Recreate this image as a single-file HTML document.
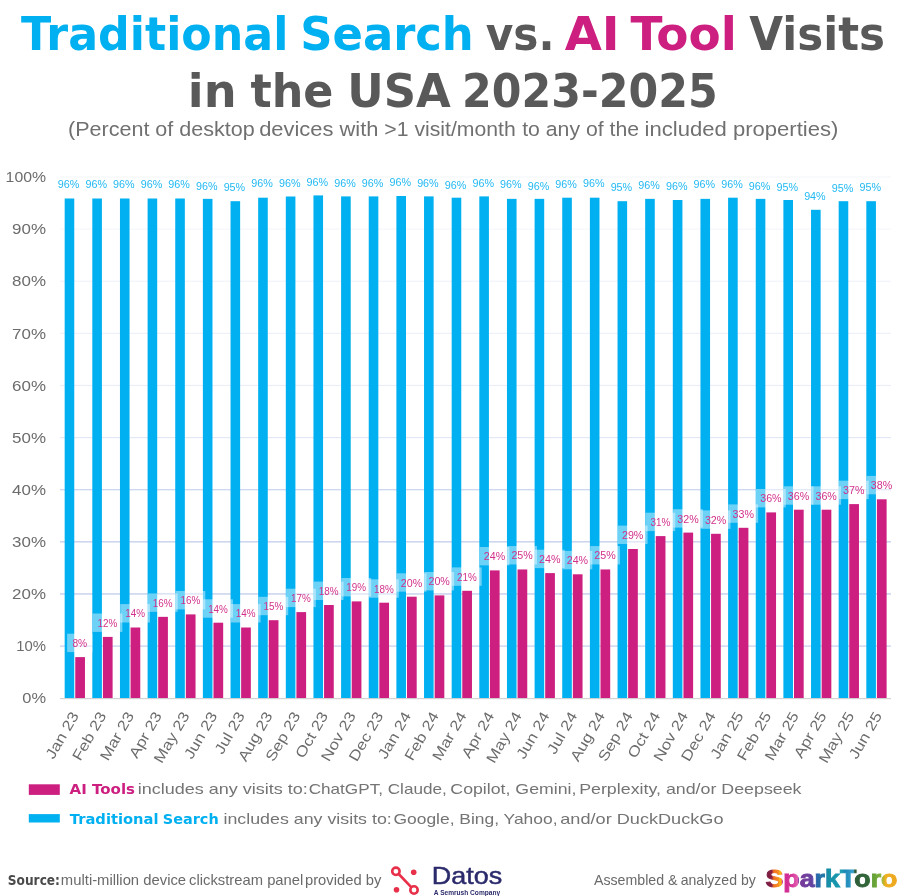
<!DOCTYPE html>
<html lang="en"><head><meta charset="utf-8"><title>Traditional Search vs. AI Tool Visits in the USA 2023-2025</title>
<style>
html,body{margin:0;padding:0;background:#fff;}
body{width:905px;height:896px;overflow:hidden;}
svg{display:block;}
.t{font-family:"DejaVu Sans","Liberation Sans",sans-serif;font-weight:bold;}
.l{font-family:"Liberation Sans",sans-serif;}
.lb{font-family:"Liberation Sans",sans-serif;font-weight:bold;}
</style></head><body>
<svg width="905" height="896" viewBox="0 0 905 896">
<rect width="905" height="896" fill="#fff"/>
<text class="t" x="21.00" y="50.20" font-size="45.8" fill="#00b0f0" textLength="267.37" lengthAdjust="spacingAndGlyphs">Traditional</text>
<text class="t" x="300.18" y="50.20" font-size="45.8" fill="#00b0f0" textLength="173.64" lengthAdjust="spacingAndGlyphs">Search</text>
<text class="t" x="485.82" y="50.20" font-size="45.8" fill="#595959" textLength="68.78" lengthAdjust="spacingAndGlyphs">vs.</text>
<text class="t" x="564.69" y="50.20" font-size="45.8" fill="#cd1f80" textLength="54.94" lengthAdjust="spacingAndGlyphs">AI</text>
<text class="t" x="630.40" y="50.20" font-size="45.8" fill="#cd1f80" textLength="106.32" lengthAdjust="spacingAndGlyphs">Tool</text>
<text class="t" x="749.21" y="50.20" font-size="45.8" fill="#595959" textLength="135.82" lengthAdjust="spacingAndGlyphs">Visits</text>
<text class="t" x="187.89" y="107.30" font-size="45.8" fill="#595959" textLength="48.79" lengthAdjust="spacingAndGlyphs">in</text>
<text class="t" x="250.41" y="107.30" font-size="45.8" fill="#595959" textLength="82.99" lengthAdjust="spacingAndGlyphs">the</text>
<text class="t" x="347.19" y="107.30" font-size="45.8" fill="#595959" textLength="103.61" lengthAdjust="spacingAndGlyphs">USA</text>
<text class="t" x="462.09" y="107.30" font-size="45.8" fill="#595959" textLength="255.59" lengthAdjust="spacingAndGlyphs">2023-2025</text>
<text class="l" x="67.99" y="136.10" font-size="19.3" fill="#707070" textLength="186.72" lengthAdjust="spacingAndGlyphs">(Percent of desktop</text>
<text class="l" x="259.18" y="136.10" font-size="19.3" fill="#707070" textLength="119.25" lengthAdjust="spacingAndGlyphs">devices with</text>
<text class="l" x="384.38" y="136.10" font-size="19.3" fill="#707070" textLength="131.32" lengthAdjust="spacingAndGlyphs">&gt;1 visit/month</text>
<text class="l" x="522.19" y="136.10" font-size="19.3" fill="#707070" textLength="116.91" lengthAdjust="spacingAndGlyphs">to any of the</text>
<text class="l" x="644.57" y="136.10" font-size="19.3" fill="#707070" textLength="193.85" lengthAdjust="spacingAndGlyphs">included properties)</text>
<rect x="60" y="176.40" width="831" height="1.2" fill="#f6f7fb"/>
<rect x="60" y="228.52" width="831" height="1.2" fill="#f6f7fb"/>
<rect x="60" y="280.64" width="831" height="1.2" fill="#f2f4fa"/>
<rect x="60" y="332.76" width="831" height="1.2" fill="#eef1f9"/>
<rect x="60" y="384.88" width="831" height="1.2" fill="#eaeef8"/>
<rect x="60" y="437.00" width="831" height="1.2" fill="#e2e8f6"/>
<rect x="60" y="489.12" width="831" height="1.2" fill="#c8d3ee"/>
<rect x="60" y="541.24" width="831" height="1.2" fill="#bdcaea"/>
<rect x="60" y="593.36" width="831" height="1.2" fill="#b9c8e8"/>
<rect x="60" y="645.48" width="831" height="1.2" fill="#c4d0ec"/>
<text class="l" x="46.00" y="182.25" font-size="14.6" fill="#6c6c6c" text-anchor="end" textLength="40.4" lengthAdjust="spacingAndGlyphs">100%</text>
<text class="l" x="46.00" y="234.37" font-size="14.6" fill="#6c6c6c" text-anchor="end" textLength="33.9" lengthAdjust="spacingAndGlyphs">90%</text>
<text class="l" x="46.00" y="286.49" font-size="14.6" fill="#6c6c6c" text-anchor="end" textLength="33.9" lengthAdjust="spacingAndGlyphs">80%</text>
<text class="l" x="46.00" y="338.61" font-size="14.6" fill="#6c6c6c" text-anchor="end" textLength="33.9" lengthAdjust="spacingAndGlyphs">70%</text>
<text class="l" x="46.00" y="390.73" font-size="14.6" fill="#6c6c6c" text-anchor="end" textLength="33.9" lengthAdjust="spacingAndGlyphs">60%</text>
<text class="l" x="46.00" y="442.85" font-size="14.6" fill="#6c6c6c" text-anchor="end" textLength="33.9" lengthAdjust="spacingAndGlyphs">50%</text>
<text class="l" x="46.00" y="494.97" font-size="14.6" fill="#6c6c6c" text-anchor="end" textLength="33.9" lengthAdjust="spacingAndGlyphs">40%</text>
<text class="l" x="46.00" y="547.09" font-size="14.6" fill="#6c6c6c" text-anchor="end" textLength="33.9" lengthAdjust="spacingAndGlyphs">30%</text>
<text class="l" x="46.00" y="599.21" font-size="14.6" fill="#6c6c6c" text-anchor="end" textLength="33.9" lengthAdjust="spacingAndGlyphs">20%</text>
<text class="l" x="46.00" y="651.33" font-size="14.6" fill="#6c6c6c" text-anchor="end" textLength="29.8" lengthAdjust="spacingAndGlyphs">10%</text>
<text class="l" x="46.00" y="703.45" font-size="14.6" fill="#6c6c6c" text-anchor="end" textLength="23.7" lengthAdjust="spacingAndGlyphs">0%</text>
<rect x="64.67" y="198.50" width="9.6" height="499.70" fill="#00b0f0"/>
<rect x="75.27" y="657.10" width="9.7" height="41.10" fill="#cd1f80"/>
<rect x="92.31" y="198.50" width="9.6" height="499.70" fill="#00b0f0"/>
<rect x="102.91" y="636.90" width="9.7" height="61.30" fill="#cd1f80"/>
<rect x="119.96" y="198.50" width="9.6" height="499.70" fill="#00b0f0"/>
<rect x="130.56" y="627.50" width="9.7" height="70.70" fill="#cd1f80"/>
<rect x="147.60" y="198.50" width="9.6" height="499.70" fill="#00b0f0"/>
<rect x="158.20" y="616.85" width="9.7" height="81.35" fill="#cd1f80"/>
<rect x="175.24" y="198.50" width="9.6" height="499.70" fill="#00b0f0"/>
<rect x="185.84" y="614.40" width="9.7" height="83.80" fill="#cd1f80"/>
<rect x="202.88" y="198.85" width="9.6" height="499.35" fill="#00b0f0"/>
<rect x="213.48" y="622.70" width="9.7" height="75.50" fill="#cd1f80"/>
<rect x="230.53" y="201.20" width="9.6" height="497.00" fill="#00b0f0"/>
<rect x="241.13" y="627.50" width="9.7" height="70.70" fill="#cd1f80"/>
<rect x="258.17" y="197.70" width="9.6" height="500.50" fill="#00b0f0"/>
<rect x="268.77" y="620.20" width="9.7" height="78.00" fill="#cd1f80"/>
<rect x="285.81" y="196.50" width="9.6" height="501.70" fill="#00b0f0"/>
<rect x="296.41" y="612.10" width="9.7" height="86.10" fill="#cd1f80"/>
<rect x="313.46" y="195.40" width="9.6" height="502.80" fill="#00b0f0"/>
<rect x="324.06" y="605.00" width="9.7" height="93.20" fill="#cd1f80"/>
<rect x="341.10" y="196.40" width="9.6" height="501.80" fill="#00b0f0"/>
<rect x="351.70" y="601.40" width="9.7" height="96.80" fill="#cd1f80"/>
<rect x="368.74" y="196.40" width="9.6" height="501.80" fill="#00b0f0"/>
<rect x="379.34" y="602.70" width="9.7" height="95.50" fill="#cd1f80"/>
<rect x="396.39" y="196.00" width="9.6" height="502.20" fill="#00b0f0"/>
<rect x="406.99" y="596.70" width="9.7" height="101.50" fill="#cd1f80"/>
<rect x="424.03" y="196.40" width="9.6" height="501.80" fill="#00b0f0"/>
<rect x="434.63" y="595.40" width="9.7" height="102.80" fill="#cd1f80"/>
<rect x="451.67" y="197.70" width="9.6" height="500.50" fill="#00b0f0"/>
<rect x="462.27" y="590.80" width="9.7" height="107.40" fill="#cd1f80"/>
<rect x="479.31" y="196.40" width="9.6" height="501.80" fill="#00b0f0"/>
<rect x="489.92" y="570.40" width="9.7" height="127.80" fill="#cd1f80"/>
<rect x="506.96" y="198.85" width="9.6" height="499.35" fill="#00b0f0"/>
<rect x="517.56" y="569.45" width="9.7" height="128.75" fill="#cd1f80"/>
<rect x="534.60" y="198.85" width="9.6" height="499.35" fill="#00b0f0"/>
<rect x="545.20" y="573.10" width="9.7" height="125.10" fill="#cd1f80"/>
<rect x="562.24" y="197.70" width="9.6" height="500.50" fill="#00b0f0"/>
<rect x="572.84" y="574.30" width="9.7" height="123.90" fill="#cd1f80"/>
<rect x="589.89" y="197.70" width="9.6" height="500.50" fill="#00b0f0"/>
<rect x="600.49" y="569.45" width="9.7" height="128.75" fill="#cd1f80"/>
<rect x="617.53" y="201.20" width="9.6" height="497.00" fill="#00b0f0"/>
<rect x="628.13" y="549.00" width="9.7" height="149.20" fill="#cd1f80"/>
<rect x="645.17" y="198.85" width="9.6" height="499.35" fill="#00b0f0"/>
<rect x="655.77" y="536.10" width="9.7" height="162.10" fill="#cd1f80"/>
<rect x="672.82" y="200.00" width="9.6" height="498.20" fill="#00b0f0"/>
<rect x="683.42" y="532.60" width="9.7" height="165.60" fill="#cd1f80"/>
<rect x="700.46" y="198.85" width="9.6" height="499.35" fill="#00b0f0"/>
<rect x="711.06" y="533.80" width="9.7" height="164.40" fill="#cd1f80"/>
<rect x="728.10" y="197.70" width="9.6" height="500.50" fill="#00b0f0"/>
<rect x="738.70" y="527.80" width="9.7" height="170.40" fill="#cd1f80"/>
<rect x="755.75" y="198.85" width="9.6" height="499.35" fill="#00b0f0"/>
<rect x="766.35" y="512.40" width="9.7" height="185.80" fill="#cd1f80"/>
<rect x="783.39" y="200.00" width="9.6" height="498.20" fill="#00b0f0"/>
<rect x="793.99" y="509.70" width="9.7" height="188.50" fill="#cd1f80"/>
<rect x="811.03" y="209.80" width="9.6" height="488.40" fill="#00b0f0"/>
<rect x="821.63" y="509.70" width="9.7" height="188.50" fill="#cd1f80"/>
<rect x="838.67" y="201.20" width="9.6" height="497.00" fill="#00b0f0"/>
<rect x="849.27" y="504.10" width="9.7" height="194.10" fill="#cd1f80"/>
<rect x="866.32" y="201.20" width="9.6" height="497.00" fill="#00b0f0"/>
<rect x="876.92" y="499.30" width="9.7" height="198.90" fill="#cd1f80"/>
<rect x="60" y="698.10" width="831" height="1.1" fill="#cfcfcf"/>
<rect x="67.12" y="633.70" width="25.4" height="18.4" fill="#fff" fill-opacity="0.43"/>
<rect x="92.56" y="613.50" width="29.8" height="18.4" fill="#fff" fill-opacity="0.43"/>
<rect x="120.21" y="604.10" width="29.8" height="18.4" fill="#fff" fill-opacity="0.43"/>
<rect x="147.85" y="593.45" width="29.8" height="18.4" fill="#fff" fill-opacity="0.43"/>
<rect x="175.49" y="591.00" width="29.8" height="18.4" fill="#fff" fill-opacity="0.43"/>
<rect x="203.13" y="599.30" width="29.8" height="18.4" fill="#fff" fill-opacity="0.43"/>
<rect x="230.78" y="604.10" width="29.8" height="18.4" fill="#fff" fill-opacity="0.43"/>
<rect x="258.42" y="596.80" width="29.8" height="18.4" fill="#fff" fill-opacity="0.43"/>
<rect x="286.06" y="588.70" width="29.8" height="18.4" fill="#fff" fill-opacity="0.43"/>
<rect x="313.71" y="581.60" width="29.8" height="18.4" fill="#fff" fill-opacity="0.43"/>
<rect x="341.35" y="578.00" width="29.8" height="18.4" fill="#fff" fill-opacity="0.43"/>
<rect x="368.99" y="579.30" width="29.8" height="18.4" fill="#fff" fill-opacity="0.43"/>
<rect x="396.64" y="573.30" width="29.8" height="18.4" fill="#fff" fill-opacity="0.43"/>
<rect x="424.28" y="572.00" width="29.8" height="18.4" fill="#fff" fill-opacity="0.43"/>
<rect x="451.92" y="567.40" width="29.8" height="18.4" fill="#fff" fill-opacity="0.43"/>
<rect x="479.57" y="547.00" width="29.8" height="18.4" fill="#fff" fill-opacity="0.43"/>
<rect x="507.21" y="546.05" width="29.8" height="18.4" fill="#fff" fill-opacity="0.43"/>
<rect x="534.85" y="549.70" width="29.8" height="18.4" fill="#fff" fill-opacity="0.43"/>
<rect x="562.49" y="550.90" width="29.8" height="18.4" fill="#fff" fill-opacity="0.43"/>
<rect x="590.14" y="546.05" width="29.8" height="18.4" fill="#fff" fill-opacity="0.43"/>
<rect x="617.78" y="525.60" width="29.8" height="18.4" fill="#fff" fill-opacity="0.43"/>
<rect x="645.42" y="512.70" width="29.8" height="18.4" fill="#fff" fill-opacity="0.43"/>
<rect x="673.07" y="509.20" width="29.8" height="18.4" fill="#fff" fill-opacity="0.43"/>
<rect x="700.71" y="510.40" width="29.8" height="18.4" fill="#fff" fill-opacity="0.43"/>
<rect x="728.35" y="504.40" width="29.8" height="18.4" fill="#fff" fill-opacity="0.43"/>
<rect x="756.00" y="489.00" width="29.8" height="18.4" fill="#fff" fill-opacity="0.43"/>
<rect x="783.64" y="486.30" width="29.8" height="18.4" fill="#fff" fill-opacity="0.43"/>
<rect x="811.28" y="486.30" width="29.8" height="18.4" fill="#fff" fill-opacity="0.43"/>
<rect x="838.92" y="480.70" width="29.8" height="18.4" fill="#fff" fill-opacity="0.43"/>
<rect x="866.57" y="475.90" width="29.8" height="18.4" fill="#fff" fill-opacity="0.43"/>
<text class="l" x="68.57" y="188.47" font-size="11" fill="#22b9f2" text-anchor="middle" textLength="21.6" lengthAdjust="spacingAndGlyphs">96%</text>
<text class="l" x="96.21" y="188.47" font-size="11" fill="#22b9f2" text-anchor="middle" textLength="21.6" lengthAdjust="spacingAndGlyphs">96%</text>
<text class="l" x="123.86" y="188.47" font-size="11" fill="#22b9f2" text-anchor="middle" textLength="21.6" lengthAdjust="spacingAndGlyphs">96%</text>
<text class="l" x="151.50" y="188.47" font-size="11" fill="#22b9f2" text-anchor="middle" textLength="21.6" lengthAdjust="spacingAndGlyphs">96%</text>
<text class="l" x="179.14" y="188.47" font-size="11" fill="#22b9f2" text-anchor="middle" textLength="21.6" lengthAdjust="spacingAndGlyphs">96%</text>
<text class="l" x="206.78" y="189.60" font-size="11" fill="#22b9f2" text-anchor="middle" textLength="21.6" lengthAdjust="spacingAndGlyphs">96%</text>
<text class="l" x="234.43" y="190.70" font-size="11" fill="#22b9f2" text-anchor="middle" textLength="21.6" lengthAdjust="spacingAndGlyphs">95%</text>
<text class="l" x="262.07" y="187.30" font-size="11" fill="#22b9f2" text-anchor="middle" textLength="21.6" lengthAdjust="spacingAndGlyphs">96%</text>
<text class="l" x="289.71" y="187.00" font-size="11" fill="#22b9f2" text-anchor="middle" textLength="21.6" lengthAdjust="spacingAndGlyphs">96%</text>
<text class="l" x="317.36" y="185.70" font-size="11" fill="#22b9f2" text-anchor="middle" textLength="21.6" lengthAdjust="spacingAndGlyphs">96%</text>
<text class="l" x="345.00" y="187.10" font-size="11" fill="#22b9f2" text-anchor="middle" textLength="21.6" lengthAdjust="spacingAndGlyphs">96%</text>
<text class="l" x="372.64" y="187.10" font-size="11" fill="#22b9f2" text-anchor="middle" textLength="21.6" lengthAdjust="spacingAndGlyphs">96%</text>
<text class="l" x="400.29" y="185.70" font-size="11" fill="#22b9f2" text-anchor="middle" textLength="21.6" lengthAdjust="spacingAndGlyphs">96%</text>
<text class="l" x="427.93" y="187.30" font-size="11" fill="#22b9f2" text-anchor="middle" textLength="21.6" lengthAdjust="spacingAndGlyphs">96%</text>
<text class="l" x="455.57" y="188.50" font-size="11" fill="#22b9f2" text-anchor="middle" textLength="21.6" lengthAdjust="spacingAndGlyphs">96%</text>
<text class="l" x="483.22" y="186.80" font-size="11" fill="#22b9f2" text-anchor="middle" textLength="21.6" lengthAdjust="spacingAndGlyphs">96%</text>
<text class="l" x="510.86" y="188.30" font-size="11" fill="#22b9f2" text-anchor="middle" textLength="21.6" lengthAdjust="spacingAndGlyphs">96%</text>
<text class="l" x="538.50" y="189.50" font-size="11" fill="#22b9f2" text-anchor="middle" textLength="21.6" lengthAdjust="spacingAndGlyphs">96%</text>
<text class="l" x="566.14" y="187.80" font-size="11" fill="#22b9f2" text-anchor="middle" textLength="21.6" lengthAdjust="spacingAndGlyphs">96%</text>
<text class="l" x="593.79" y="187.10" font-size="11" fill="#22b9f2" text-anchor="middle" textLength="21.6" lengthAdjust="spacingAndGlyphs">96%</text>
<text class="l" x="621.43" y="190.60" font-size="11" fill="#22b9f2" text-anchor="middle" textLength="21.6" lengthAdjust="spacingAndGlyphs">95%</text>
<text class="l" x="649.07" y="189.30" font-size="11" fill="#22b9f2" text-anchor="middle" textLength="21.6" lengthAdjust="spacingAndGlyphs">96%</text>
<text class="l" x="676.72" y="190.45" font-size="11" fill="#22b9f2" text-anchor="middle" textLength="21.6" lengthAdjust="spacingAndGlyphs">96%</text>
<text class="l" x="704.36" y="188.30" font-size="11" fill="#22b9f2" text-anchor="middle" textLength="21.6" lengthAdjust="spacingAndGlyphs">96%</text>
<text class="l" x="732.00" y="188.30" font-size="11" fill="#22b9f2" text-anchor="middle" textLength="21.6" lengthAdjust="spacingAndGlyphs">96%</text>
<text class="l" x="759.64" y="189.50" font-size="11" fill="#22b9f2" text-anchor="middle" textLength="21.6" lengthAdjust="spacingAndGlyphs">96%</text>
<text class="l" x="787.29" y="190.60" font-size="11" fill="#22b9f2" text-anchor="middle" textLength="21.6" lengthAdjust="spacingAndGlyphs">95%</text>
<text class="l" x="814.93" y="199.80" font-size="11" fill="#22b9f2" text-anchor="middle" textLength="21.6" lengthAdjust="spacingAndGlyphs">94%</text>
<text class="l" x="842.57" y="191.60" font-size="11" fill="#22b9f2" text-anchor="middle" textLength="21.6" lengthAdjust="spacingAndGlyphs">95%</text>
<text class="l" x="870.22" y="191.10" font-size="11" fill="#22b9f2" text-anchor="middle" textLength="21.6" lengthAdjust="spacingAndGlyphs">95%</text>
<text class="l" x="79.82" y="647.00" font-size="11" fill="#d2308a" text-anchor="middle" textLength="14.8" lengthAdjust="spacingAndGlyphs">8%</text>
<text class="l" x="107.46" y="626.80" font-size="11" fill="#d2308a" text-anchor="middle" textLength="19.8" lengthAdjust="spacingAndGlyphs">12%</text>
<text class="l" x="135.11" y="617.40" font-size="11" fill="#d2308a" text-anchor="middle" textLength="19.8" lengthAdjust="spacingAndGlyphs">14%</text>
<text class="l" x="162.75" y="606.75" font-size="11" fill="#d2308a" text-anchor="middle" textLength="19.8" lengthAdjust="spacingAndGlyphs">16%</text>
<text class="l" x="190.39" y="604.30" font-size="11" fill="#d2308a" text-anchor="middle" textLength="19.8" lengthAdjust="spacingAndGlyphs">16%</text>
<text class="l" x="218.03" y="612.60" font-size="11" fill="#d2308a" text-anchor="middle" textLength="19.8" lengthAdjust="spacingAndGlyphs">14%</text>
<text class="l" x="245.68" y="617.40" font-size="11" fill="#d2308a" text-anchor="middle" textLength="19.8" lengthAdjust="spacingAndGlyphs">14%</text>
<text class="l" x="273.32" y="610.10" font-size="11" fill="#d2308a" text-anchor="middle" textLength="19.8" lengthAdjust="spacingAndGlyphs">15%</text>
<text class="l" x="300.96" y="602.00" font-size="11" fill="#d2308a" text-anchor="middle" textLength="19.8" lengthAdjust="spacingAndGlyphs">17%</text>
<text class="l" x="328.61" y="594.90" font-size="11" fill="#d2308a" text-anchor="middle" textLength="19.8" lengthAdjust="spacingAndGlyphs">18%</text>
<text class="l" x="356.25" y="591.30" font-size="11" fill="#d2308a" text-anchor="middle" textLength="19.8" lengthAdjust="spacingAndGlyphs">19%</text>
<text class="l" x="383.89" y="592.60" font-size="11" fill="#d2308a" text-anchor="middle" textLength="19.8" lengthAdjust="spacingAndGlyphs">18%</text>
<text class="l" x="411.54" y="586.60" font-size="11" fill="#d2308a" text-anchor="middle" textLength="21.4" lengthAdjust="spacingAndGlyphs">20%</text>
<text class="l" x="439.18" y="585.30" font-size="11" fill="#d2308a" text-anchor="middle" textLength="21.4" lengthAdjust="spacingAndGlyphs">20%</text>
<text class="l" x="466.82" y="580.70" font-size="11" fill="#d2308a" text-anchor="middle" textLength="19.8" lengthAdjust="spacingAndGlyphs">21%</text>
<text class="l" x="494.47" y="560.30" font-size="11" fill="#d2308a" text-anchor="middle" textLength="21.4" lengthAdjust="spacingAndGlyphs">24%</text>
<text class="l" x="522.11" y="559.35" font-size="11" fill="#d2308a" text-anchor="middle" textLength="21.4" lengthAdjust="spacingAndGlyphs">25%</text>
<text class="l" x="549.75" y="563.00" font-size="11" fill="#d2308a" text-anchor="middle" textLength="21.4" lengthAdjust="spacingAndGlyphs">24%</text>
<text class="l" x="577.39" y="564.20" font-size="11" fill="#d2308a" text-anchor="middle" textLength="21.4" lengthAdjust="spacingAndGlyphs">24%</text>
<text class="l" x="605.04" y="559.35" font-size="11" fill="#d2308a" text-anchor="middle" textLength="21.4" lengthAdjust="spacingAndGlyphs">25%</text>
<text class="l" x="632.68" y="538.90" font-size="11" fill="#d2308a" text-anchor="middle" textLength="21.4" lengthAdjust="spacingAndGlyphs">29%</text>
<text class="l" x="660.32" y="526.00" font-size="11" fill="#d2308a" text-anchor="middle" textLength="19.8" lengthAdjust="spacingAndGlyphs">31%</text>
<text class="l" x="687.97" y="522.50" font-size="11" fill="#d2308a" text-anchor="middle" textLength="21.4" lengthAdjust="spacingAndGlyphs">32%</text>
<text class="l" x="715.61" y="523.70" font-size="11" fill="#d2308a" text-anchor="middle" textLength="21.4" lengthAdjust="spacingAndGlyphs">32%</text>
<text class="l" x="743.25" y="517.70" font-size="11" fill="#d2308a" text-anchor="middle" textLength="21.4" lengthAdjust="spacingAndGlyphs">33%</text>
<text class="l" x="770.90" y="502.30" font-size="11" fill="#d2308a" text-anchor="middle" textLength="21.4" lengthAdjust="spacingAndGlyphs">36%</text>
<text class="l" x="798.54" y="499.60" font-size="11" fill="#d2308a" text-anchor="middle" textLength="21.4" lengthAdjust="spacingAndGlyphs">36%</text>
<text class="l" x="826.18" y="499.60" font-size="11" fill="#d2308a" text-anchor="middle" textLength="21.4" lengthAdjust="spacingAndGlyphs">36%</text>
<text class="l" x="853.82" y="494.00" font-size="11" fill="#d2308a" text-anchor="middle" textLength="21.4" lengthAdjust="spacingAndGlyphs">37%</text>
<text class="l" x="881.47" y="489.20" font-size="11" fill="#d2308a" text-anchor="middle" textLength="21.4" lengthAdjust="spacingAndGlyphs">38%</text>
<text class="l" transform="translate(74.85,713) rotate(-60)" x="0" y="5" font-size="14.6" fill="#6c6c6c" text-anchor="end" textLength="51.51" lengthAdjust="spacingAndGlyphs">Jan 23</text>
<text class="l" transform="translate(102.55,713) rotate(-60)" x="0" y="5" font-size="14.6" fill="#6c6c6c" text-anchor="end" textLength="53.41" lengthAdjust="spacingAndGlyphs">Feb 23</text>
<text class="l" transform="translate(130.25,713) rotate(-60)" x="0" y="5" font-size="14.6" fill="#6c6c6c" text-anchor="end" textLength="53.39" lengthAdjust="spacingAndGlyphs">Mar 23</text>
<text class="l" transform="translate(157.95,713) rotate(-60)" x="0" y="5" font-size="14.6" fill="#6c6c6c" text-anchor="end" textLength="50.55" lengthAdjust="spacingAndGlyphs">Apr 23</text>
<text class="l" transform="translate(185.65,713) rotate(-60)" x="0" y="5" font-size="14.6" fill="#6c6c6c" text-anchor="end" textLength="56.26" lengthAdjust="spacingAndGlyphs">May 23</text>
<text class="l" transform="translate(213.35,713) rotate(-60)" x="0" y="5" font-size="14.6" fill="#6c6c6c" text-anchor="end" textLength="51.51" lengthAdjust="spacingAndGlyphs">Jun 23</text>
<text class="l" transform="translate(241.05,713) rotate(-60)" x="0" y="5" font-size="14.6" fill="#6c6c6c" text-anchor="end" textLength="45.78" lengthAdjust="spacingAndGlyphs">Jul 23</text>
<text class="l" transform="translate(268.75,713) rotate(-60)" x="0" y="5" font-size="14.6" fill="#6c6c6c" text-anchor="end" textLength="54.37" lengthAdjust="spacingAndGlyphs">Aug 23</text>
<text class="l" transform="translate(296.45,713) rotate(-60)" x="0" y="5" font-size="14.6" fill="#6c6c6c" text-anchor="end" textLength="54.37" lengthAdjust="spacingAndGlyphs">Sep 23</text>
<text class="l" transform="translate(324.15,713) rotate(-60)" x="0" y="5" font-size="14.6" fill="#6c6c6c" text-anchor="end" textLength="50.53" lengthAdjust="spacingAndGlyphs">Oct 23</text>
<text class="l" transform="translate(351.85,713) rotate(-60)" x="0" y="5" font-size="14.6" fill="#6c6c6c" text-anchor="end" textLength="54.36" lengthAdjust="spacingAndGlyphs">Nov 23</text>
<text class="l" transform="translate(379.55,713) rotate(-60)" x="0" y="5" font-size="14.6" fill="#6c6c6c" text-anchor="end" textLength="54.36" lengthAdjust="spacingAndGlyphs">Dec 23</text>
<text class="l" transform="translate(407.25,713) rotate(-60)" x="0" y="5" font-size="14.6" fill="#6c6c6c" text-anchor="end" textLength="51.51" lengthAdjust="spacingAndGlyphs">Jan 24</text>
<text class="l" transform="translate(434.95,713) rotate(-60)" x="0" y="5" font-size="14.6" fill="#6c6c6c" text-anchor="end" textLength="53.41" lengthAdjust="spacingAndGlyphs">Feb 24</text>
<text class="l" transform="translate(462.65,713) rotate(-60)" x="0" y="5" font-size="14.6" fill="#6c6c6c" text-anchor="end" textLength="53.39" lengthAdjust="spacingAndGlyphs">Mar 24</text>
<text class="l" transform="translate(490.35,713) rotate(-60)" x="0" y="5" font-size="14.6" fill="#6c6c6c" text-anchor="end" textLength="50.55" lengthAdjust="spacingAndGlyphs">Apr 24</text>
<text class="l" transform="translate(518.05,713) rotate(-60)" x="0" y="5" font-size="14.6" fill="#6c6c6c" text-anchor="end" textLength="56.26" lengthAdjust="spacingAndGlyphs">May 24</text>
<text class="l" transform="translate(545.75,713) rotate(-60)" x="0" y="5" font-size="14.6" fill="#6c6c6c" text-anchor="end" textLength="51.51" lengthAdjust="spacingAndGlyphs">Jun 24</text>
<text class="l" transform="translate(573.45,713) rotate(-60)" x="0" y="5" font-size="14.6" fill="#6c6c6c" text-anchor="end" textLength="45.78" lengthAdjust="spacingAndGlyphs">Jul 24</text>
<text class="l" transform="translate(601.15,713) rotate(-60)" x="0" y="5" font-size="14.6" fill="#6c6c6c" text-anchor="end" textLength="54.37" lengthAdjust="spacingAndGlyphs">Aug 24</text>
<text class="l" transform="translate(628.85,713) rotate(-60)" x="0" y="5" font-size="14.6" fill="#6c6c6c" text-anchor="end" textLength="54.37" lengthAdjust="spacingAndGlyphs">Sep 24</text>
<text class="l" transform="translate(656.55,713) rotate(-60)" x="0" y="5" font-size="14.6" fill="#6c6c6c" text-anchor="end" textLength="50.53" lengthAdjust="spacingAndGlyphs">Oct 24</text>
<text class="l" transform="translate(684.25,713) rotate(-60)" x="0" y="5" font-size="14.6" fill="#6c6c6c" text-anchor="end" textLength="54.36" lengthAdjust="spacingAndGlyphs">Nov 24</text>
<text class="l" transform="translate(711.95,713) rotate(-60)" x="0" y="5" font-size="14.6" fill="#6c6c6c" text-anchor="end" textLength="54.36" lengthAdjust="spacingAndGlyphs">Dec 24</text>
<text class="l" transform="translate(739.65,713) rotate(-60)" x="0" y="5" font-size="14.6" fill="#6c6c6c" text-anchor="end" textLength="51.51" lengthAdjust="spacingAndGlyphs">Jan 25</text>
<text class="l" transform="translate(767.35,713) rotate(-60)" x="0" y="5" font-size="14.6" fill="#6c6c6c" text-anchor="end" textLength="53.41" lengthAdjust="spacingAndGlyphs">Feb 25</text>
<text class="l" transform="translate(795.05,713) rotate(-60)" x="0" y="5" font-size="14.6" fill="#6c6c6c" text-anchor="end" textLength="53.39" lengthAdjust="spacingAndGlyphs">Mar 25</text>
<text class="l" transform="translate(822.75,713) rotate(-60)" x="0" y="5" font-size="14.6" fill="#6c6c6c" text-anchor="end" textLength="50.55" lengthAdjust="spacingAndGlyphs">Apr 25</text>
<text class="l" transform="translate(850.45,713) rotate(-60)" x="0" y="5" font-size="14.6" fill="#6c6c6c" text-anchor="end" textLength="56.26" lengthAdjust="spacingAndGlyphs">May 25</text>
<text class="l" transform="translate(878.15,713) rotate(-60)" x="0" y="5" font-size="14.6" fill="#6c6c6c" text-anchor="end" textLength="51.51" lengthAdjust="spacingAndGlyphs">Jun 25</text>
<rect x="28.8" y="784.3" width="31" height="10.6" fill="#cd1f80"/>
<rect x="28.8" y="814.1" width="31" height="8.4" fill="#00b0f0"/>
<text class="t" x="69.50" y="793.90" font-size="13.7" fill="#cd1f80" textLength="65.50" lengthAdjust="spacingAndGlyphs">AI Tools</text>
<text class="l" x="137.68" y="793.90" font-size="14.8" fill="#747474" textLength="170.14" lengthAdjust="spacingAndGlyphs">includes any visits to:</text>
<text class="l" x="308.68" y="793.90" font-size="14.8" fill="#747474" textLength="138.14" lengthAdjust="spacingAndGlyphs">ChatGPT, Claude,</text>
<text class="l" x="450.37" y="793.90" font-size="14.8" fill="#747474" textLength="126.05" lengthAdjust="spacingAndGlyphs">Copilot, Gemini,</text>
<text class="l" x="579.18" y="793.90" font-size="14.8" fill="#747474" textLength="222.32" lengthAdjust="spacingAndGlyphs">Perplexity, and/or Deepseek</text>
<text class="t" x="69.80" y="823.80" font-size="13.7" fill="#00b0f0" textLength="88.70" lengthAdjust="spacingAndGlyphs">Traditional</text>
<text class="t" x="162.80" y="823.80" font-size="13.7" fill="#00b0f0" textLength="55.90" lengthAdjust="spacingAndGlyphs">Search</text>
<text class="l" x="223.47" y="823.80" font-size="14.8" fill="#747474" textLength="168.26" lengthAdjust="spacingAndGlyphs">includes any visits to:</text>
<text class="l" x="393.49" y="823.80" font-size="14.8" fill="#747474" textLength="164.03" lengthAdjust="spacingAndGlyphs">Google, Bing, Yahoo,</text>
<text class="l" x="560.29" y="823.80" font-size="14.8" fill="#747474" textLength="163.21" lengthAdjust="spacingAndGlyphs">and/or DuckDuckGo</text>
<text class="t" x="7.80" y="884.50" font-size="13.5" fill="#4a4a4a" textLength="52.20" lengthAdjust="spacingAndGlyphs">Source:</text>
<text class="l" x="60.89" y="884.50" font-size="14.6" fill="#6a6a6a" textLength="125.22" lengthAdjust="spacingAndGlyphs">multi-million device</text>
<text class="l" x="189.10" y="884.50" font-size="14.6" fill="#6a6a6a" textLength="114.23" lengthAdjust="spacingAndGlyphs">clickstream panel</text>
<text class="l" x="304.99" y="884.50" font-size="14.6" fill="#6a6a6a" textLength="76.32" lengthAdjust="spacingAndGlyphs">provided by</text>
<text class="l" x="594.00" y="884.50" font-size="14.6" fill="#6a6a6a" textLength="83.50" lengthAdjust="spacingAndGlyphs">Assembled &amp;</text>
<text class="l" x="680.70" y="884.50" font-size="14.6" fill="#6a6a6a" textLength="75.11" lengthAdjust="spacingAndGlyphs">analyzed by</text>
<g fill="none" stroke="#e8304a" stroke-width="2.6">
<line x1="398.7" y1="874.0" x2="411.2" y2="887.2"/>
<circle cx="395.9" cy="871.3" r="3.7"/>
<circle cx="414.0" cy="890.0" r="3.7"/>
</g>
<circle cx="413.7" cy="872.2" r="2.8" fill="#e8304a"/>
<circle cx="396.5" cy="889.8" r="2.8" fill="#e8304a"/>
<text class="l" x="431.74" y="884.00" font-size="24" fill="#2b2a6b" textLength="70.48" lengthAdjust="spacingAndGlyphs" stroke="#2b2a6b" stroke-width="0.45">Datos</text>
<text class="lb" x="433.80" y="895.10" font-size="6.4" fill="#2b2a6b" textLength="66.31" lengthAdjust="spacingAndGlyphs">A Semrush Company</text>
<defs><linearGradient id="sg" gradientUnits="userSpaceOnUse" x1="765.8" y1="0" x2="897.5" y2="0">
<stop offset="0" stop-color="#741a44"/>
<stop offset="0.045" stop-color="#8a1f40"/>
<stop offset="0.06" stop-color="#f26f21"/>
<stop offset="0.095" stop-color="#f58a1f"/>
<stop offset="0.105" stop-color="#f7b21b"/>
<stop offset="0.118" stop-color="#f7b21b"/>
<stop offset="0.124" stop-color="#cf2590"/>
<stop offset="0.2" stop-color="#d5359a"/>
<stop offset="0.242" stop-color="#e263b1"/>
<stop offset="0.25" stop-color="#7a3a9a"/>
<stop offset="0.33" stop-color="#6b3f9e"/>
<stop offset="0.372" stop-color="#5a4aa5"/>
<stop offset="0.382" stop-color="#2a64a8"/>
<stop offset="0.46" stop-color="#1d7fa8"/>
<stop offset="0.47" stop-color="#168fa6"/>
<stop offset="0.58" stop-color="#1a9ab3"/>
<stop offset="0.6" stop-color="#1a86b6"/>
<stop offset="0.665" stop-color="#3aa3cf"/>
<stop offset="0.675" stop-color="#2d5c38"/>
<stop offset="0.785" stop-color="#33683a"/>
<stop offset="0.797" stop-color="#5c9c38"/>
<stop offset="0.875" stop-color="#7fb23a"/>
<stop offset="0.885" stop-color="#a8b530"/>
<stop offset="0.91" stop-color="#f0b020"/>
<stop offset="1" stop-color="#eda61e"/>
</linearGradient></defs>
<text class="lb" x="765.40" y="887.30" font-size="23.8" fill="url(#sg)" textLength="132.10" lengthAdjust="spacingAndGlyphs" stroke="url(#sg)" stroke-width="0.9">SparkToro</text>
</svg></body></html>
